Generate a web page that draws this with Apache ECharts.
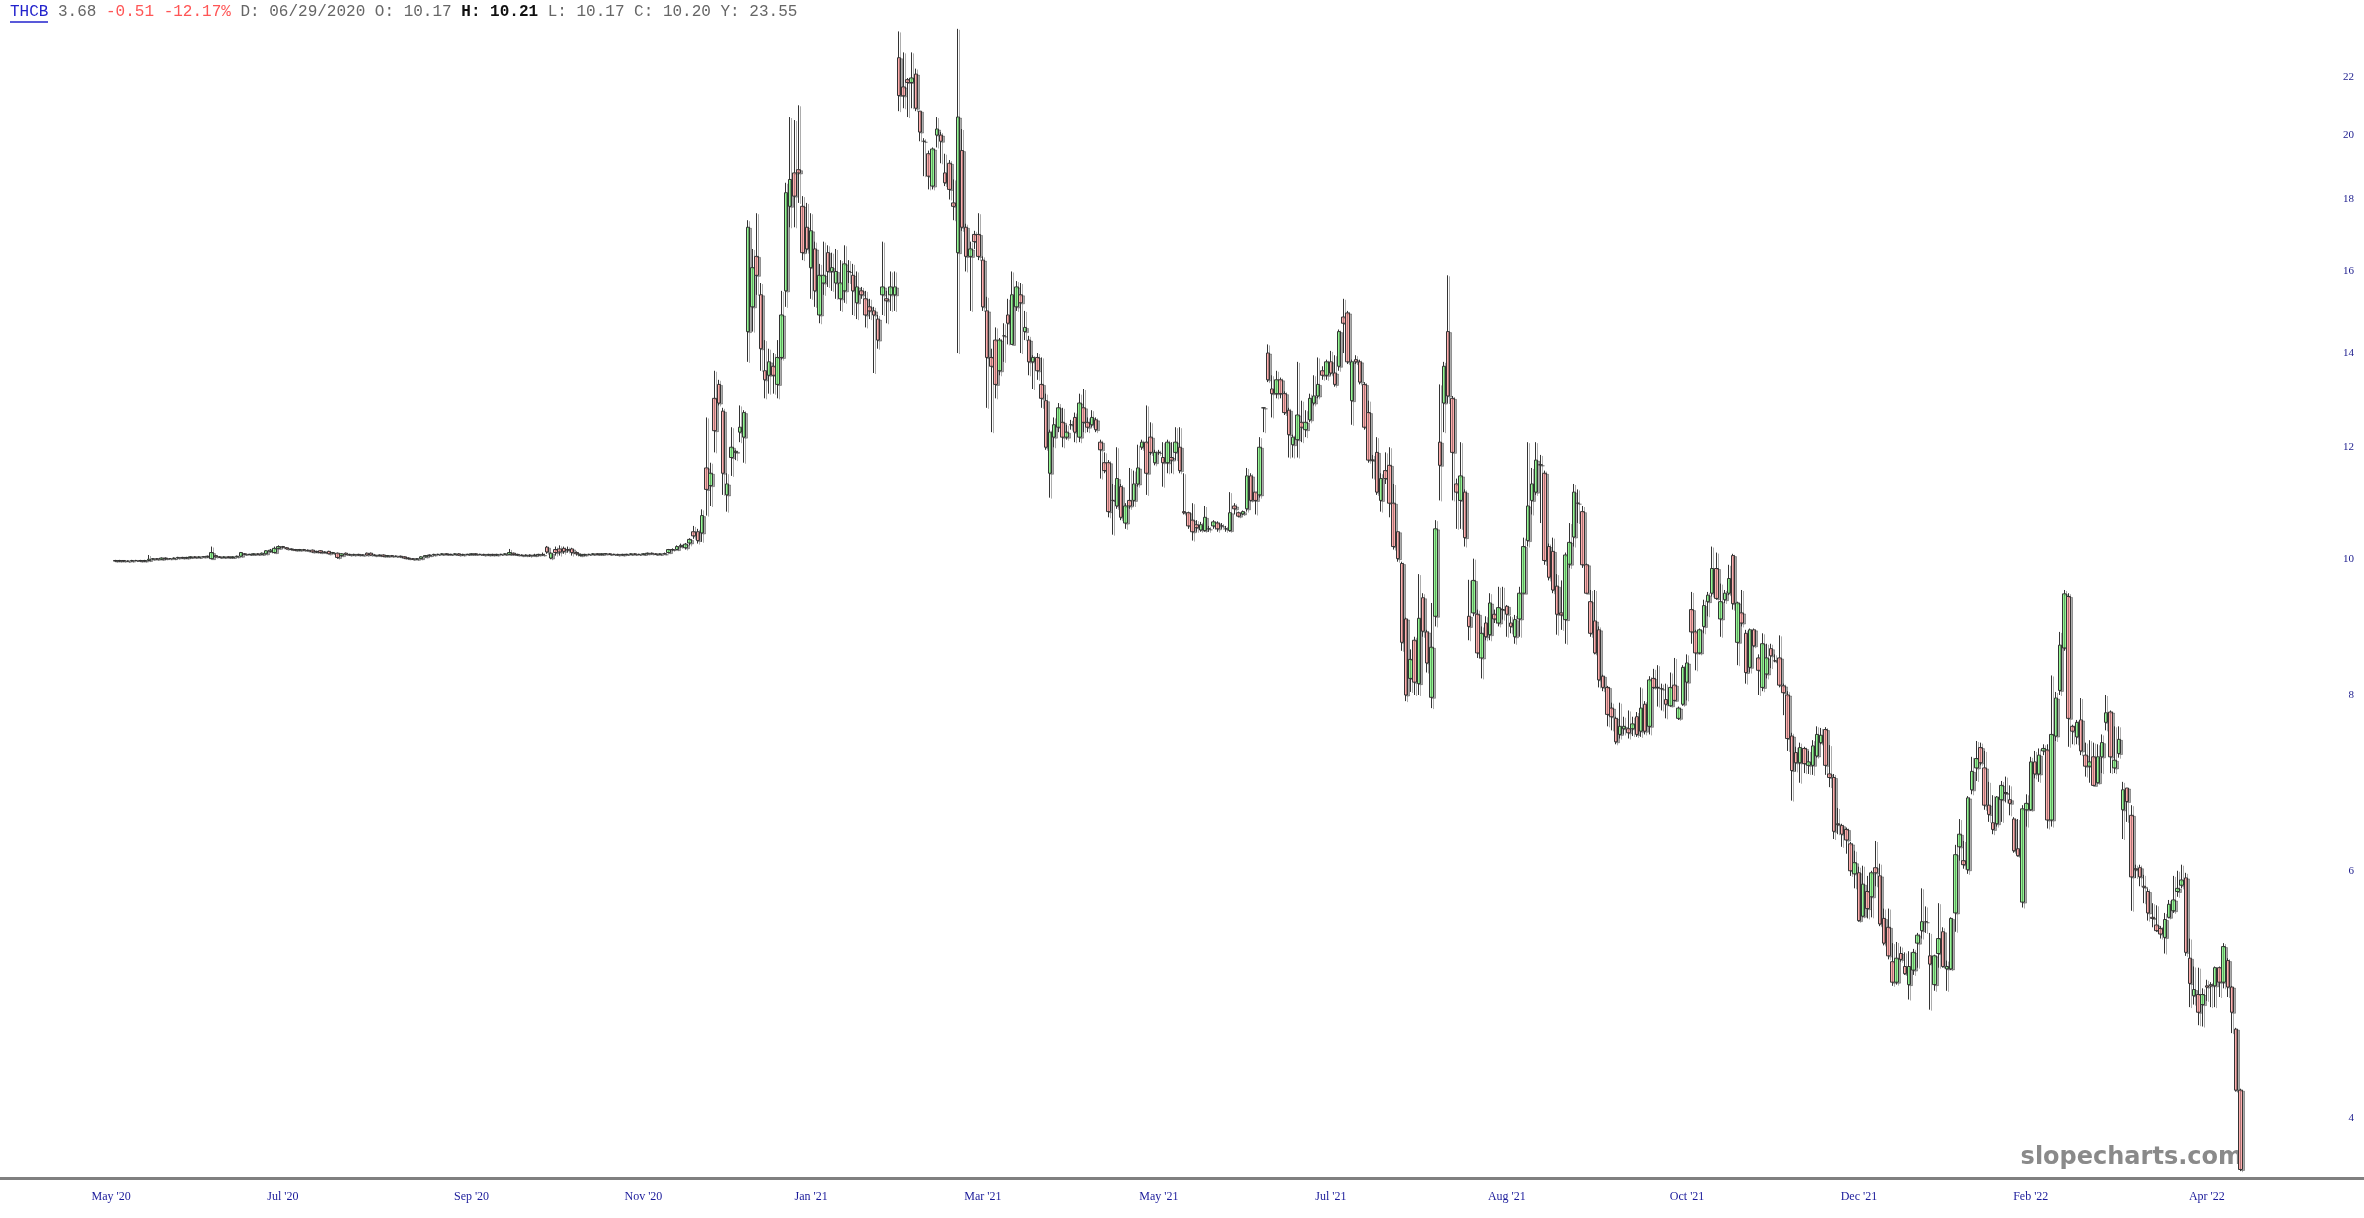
<!DOCTYPE html>
<html><head><meta charset="utf-8">
<script src="https://cdn.jsdelivr.net/npm/echarts@6/dist/echarts.min.js"></script>
<style>html,body{margin:0;padding:0;background:#fff}#c{width:2364px;height:1218px}</style>
</head><body><div id="c"></div>
<script>
// Candles: [open, close, low, high]
const ohlc = [
[9.97,9.96,9.95,9.98],[9.96,9.97,9.95,9.98],[9.97,9.96,9.95,9.97],[9.96,9.96,9.95,9.97],[9.96,9.97,9.95,9.98],
[9.97,9.97,9.96,9.98],[9.97,9.96,9.95,9.98],[9.96,9.97,9.95,9.98],[9.97,9.99,9.96,10.06],[9.99,10.0,9.98,10.01],
[10.0,9.99,9.98,10.01],[9.99,10.01,9.98,10.02],[10.01,10.0,9.99,10.02],[10.0,10.0,9.99,10.01],[10.0,10.01,9.99,10.02],
[10.01,10.02,10.0,10.03],[10.02,10.01,10.0,10.03],[10.01,10.02,10.0,10.03],[10.02,10.03,10.01,10.04],[10.03,10.02,10.01,10.04],
[10.02,10.03,10.01,10.04],[10.03,10.03,10.02,10.04],[10.03,10.04,10.02,10.05],[10.0,10.1,10.0,10.2],[10.05,10.03,10.02,10.06],
[10.03,10.02,10.01,10.04],[10.02,10.03,10.01,10.04],[10.03,10.02,10.01,10.04],[10.02,10.03,10.01,10.04],[10.03,10.04,10.02,10.05],
[10.04,10.1,10.03,10.11],[10.08,10.07,10.06,10.09],[10.07,10.07,10.06,10.08],[10.07,10.08,10.06,10.09],[10.08,10.07,10.06,10.09],
[10.07,10.09,10.06,10.1],[10.08,10.13,10.07,10.14],[10.12,10.14,10.1,10.16],[10.1,10.17,10.09,10.2],[10.17,10.2,10.16,10.22],
[10.2,10.19,10.17,10.21],[10.18,10.16,10.15,10.19],[10.16,10.15,10.14,10.17],[10.15,10.14,10.13,10.16],[10.14,10.15,10.13,10.16],
[10.15,10.14,10.13,10.16],[10.14,10.13,10.12,10.15],[10.14,10.11,10.1,10.15],[10.12,10.11,10.1,10.13],[10.13,10.1,10.09,10.14],
[10.11,10.1,10.09,10.12],[10.12,10.08,10.07,10.13],[10.09,10.1,10.08,10.11],[10.09,10.02,10.0,10.1],[10.05,10.08,10.04,10.09],
[10.09,10.07,10.06,10.1],[10.07,10.06,10.05,10.08],[10.06,10.07,10.05,10.08],[10.07,10.06,10.05,10.08],[10.06,10.06,10.05,10.07],
[10.09,10.06,10.05,10.1],[10.09,10.06,10.05,10.1],[10.06,10.05,10.04,10.07],[10.05,10.06,10.04,10.07],[10.06,10.04,10.03,10.07],
[10.04,10.05,10.03,10.06],[10.05,10.04,10.03,10.06],[10.04,10.04,10.03,10.05],[10.04,10.03,10.02,10.05],[10.03,10.01,10.0,10.04],
[10.01,10.0,9.99,10.02],[10.0,9.99,9.98,10.01],[9.99,10.0,9.98,10.01],[10.0,10.03,9.99,10.04],[10.03,10.05,10.02,10.06],
[10.05,10.06,10.04,10.07],[10.06,10.07,10.05,10.08],[10.07,10.07,10.06,10.08],[10.07,10.08,10.06,10.09],[10.08,10.07,10.06,10.09],
[10.07,10.07,10.06,10.08],[10.07,10.08,10.06,10.09],[10.08,10.06,10.05,10.09],[10.06,10.07,10.05,10.08],[10.07,10.07,10.06,10.08],
[10.07,10.08,10.06,10.09],[10.08,10.07,10.06,10.09],[10.07,10.07,10.06,10.08],[10.07,10.06,10.05,10.08],[10.06,10.07,10.05,10.08],
[10.07,10.06,10.05,10.08],[10.06,10.07,10.05,10.08],[10.07,10.07,10.06,10.08],[10.07,10.08,10.06,10.09],[10.07,10.1,10.06,10.16],
[10.09,10.07,10.06,10.1],[10.07,10.06,10.05,10.08],[10.06,10.05,10.04,10.07],[10.05,10.06,10.04,10.07],[10.06,10.05,10.03,10.07],
[10.05,10.06,10.04,10.08],[10.06,10.07,10.05,10.08],[10.07,10.06,10.05,10.1],[10.19,10.11,10.08,10.21],[10.01,10.09,9.99,10.1],
[10.15,10.1,10.05,10.2],[10.16,10.11,10.05,10.22],[10.17,10.12,10.08,10.2],[10.15,10.14,10.1,10.2],[10.16,10.1,10.05,10.18],
[10.1,10.08,10.05,10.12],[10.05,10.07,10.04,10.08],[10.06,10.07,10.05,10.08],[10.07,10.07,10.06,10.08],[10.07,10.08,10.06,10.09],
[10.08,10.07,10.06,10.09],[10.07,10.08,10.06,10.09],[10.08,10.08,10.07,10.09],[10.08,10.07,10.06,10.09],[10.07,10.07,10.06,10.08],
[10.07,10.06,10.05,10.08],[10.06,10.07,10.05,10.08],[10.07,10.07,10.06,10.08],[10.07,10.08,10.06,10.09],[10.08,10.07,10.06,10.09],
[10.07,10.07,10.06,10.08],[10.07,10.08,10.06,10.09],[10.08,10.09,10.07,10.1],[10.09,10.08,10.07,10.1],[10.08,10.07,10.06,10.09],
[10.07,10.08,10.06,10.09],[10.08,10.08,10.07,10.1],[10.1,10.15,10.09,10.16],[10.15,10.15,10.13,10.17],[10.15,10.2,10.14,10.22],
[10.2,10.22,10.18,10.25],
[10.18,10.24,10.15,10.26],[10.26,10.32,10.22,10.34],[10.45,10.38,10.33,10.55],[10.45,10.3,10.25,10.5],[10.43,10.73,10.28,10.84],
[11.6,11.2,10.73,12.6],[11.27,11.5,10.9,11.7],[13.0,12.33,11.9,13.6],[13.3,12.9,12.85,13.4],[12.73,11.5,11.1,12.8],
[11.1,11.3,10.8,11.5],[11.8,12.0,11.45,12.4],[11.9,11.92,11.75,11.95],[12.3,12.4,12.1,12.85],[12.2,12.7,11.7,12.75],
[14.5,17.2,13.8,17.4],[15.1,16.1,14.5,16.6],[16.4,15.9,15.4,17.6],[15.4,14.1,13.6,15.7],[13.6,13.4,13.0,14.3],
[13.5,13.8,13.1,14.1],[13.7,13.5,13.1,14.0],[13.3,13.9,13.0,14.3],[13.9,14.9,13.85,15.5],[15.5,18.2,15.1,18.5],
[17.8,18.6,17.2,20.6],[18.8,18.1,17.2,20.5],[18.9,18.8,17.9,21.0],[17.8,16.5,16.3,18.1],[17.2,16.6,16.5,17.9],
[16.1,17.1,15.3,17.6],[16.6,15.5,15.1,16.8],[14.9,15.9,14.7,16.2],[15.7,15.9,15.4,16.8],[16.5,16.0,15.6,16.7],
[16.0,16.1,15.5,16.5],[15.7,16.0,15.3,16.6],[15.3,15.7,15.0,16.3],[15.5,16.2,15.2,16.7],[16.0,16.0,15.7,16.3],
[15.9,15.5,14.9,16.2],[15.2,15.6,14.8,16.0],[15.5,15.4,15.3,15.6],[15.3,14.9,14.6,15.5],[15.1,15.0,14.8,15.3],
[15.0,14.9,13.55,15.1],[14.8,14.3,14.1,14.9],[15.4,15.6,14.9,16.8],[15.3,15.25,14.7,15.5],[15.4,15.6,15.0,16.0],
[15.4,15.6,15.0,16.0],
[22.7,21.34,20.8,23.7],[21.64,21.33,20.9,22.9],[21.9,21.8,20.6,21.96],[21.8,21.96,20.9,22.9],[22.1,20.9,20.8,22.3],
[20.8,20.1,19.8,20.8],[19.8,19.8,18.7,19.9],[19.4,18.7,18.3,19.5],[18.4,19.55,18.3,19.6],[20.0,20.2,19.6,20.6],
[20.0,19.8,19.1,20.1],[18.8,18.5,18.4,19.4],[19.1,18.3,18.0,19.2],[17.9,17.8,17.4,18.6],[16.5,20.6,14.0,23.8],
[19.5,17.2,17.1,20.2],[17.2,16.4,16.0,17.3],[16.4,16.6,15.0,16.8],[17.0,16.8,16.6,17.1],[17.0,16.4,16.3,17.6],
[16.3,15.1,15.0,16.4],[15.0,13.9,12.8,15.35],[13.9,13.7,12.3,14.1],[14.3,13.3,13.0,14.6],[13.6,14.3,13.5,14.35],
[14.4,14.4,13.8,14.7],[14.9,14.7,14.2,15.3],[14.2,15.4,14.2,16.0],[15.1,15.6,15.0,15.75],[15.4,15.2,14.0,15.7],
[14.5,14.6,14.3,15.0],[14.3,13.8,13.5,14.4],[13.8,13.9,13.2,13.95],[13.9,13.6,13.4,14.0],[13.3,13.0,12.8,13.9],
[12.95,12.0,11.95,13.1],[11.5,12.3,11.05,12.35],[12.2,12.45,12.0,12.6],[12.4,12.8,12.3,12.9],[12.5,12.2,12.0,12.8],
[12.2,12.3,12.15,12.45],[12.45,12.45,12.35,12.55],[12.6,12.3,12.1,12.7],[12.2,12.9,12.1,13.1],[12.8,12.5,12.3,13.2],
[12.5,12.4,12.3,12.6],[12.45,12.6,12.4,12.75],[12.55,12.35,12.3,12.6],[12.1,11.95,11.4,12.15],[11.7,11.55,11.5,11.9],
[11.7,10.8,10.7,11.75],[11.0,11.0,10.4,11.3],[10.9,11.4,10.85,12.0],[11.25,10.7,10.65,11.3],[10.6,10.9,10.5,10.95],
[11.0,10.9,10.85,11.6],[11.0,11.3,10.9,11.55],[11.3,11.6,11.25,12.05],[12.0,12.1,11.95,12.15],[12.1,11.5,11.1,12.85],
[12.2,11.9,11.85,12.5],[11.7,11.9,11.65,11.95],[11.9,11.9,11.85,11.95],[11.8,11.7,11.25,12.1],[11.7,12.1,11.5,12.15],
[11.8,11.75,11.5,12.1],[11.9,12.1,11.75,12.4],[12.0,11.55,11.5,12.4],[10.8,10.78,10.75,11.5],[10.78,10.55,10.5,10.8],
[10.65,10.45,10.3,10.95],[10.57,10.52,10.45,10.65],[10.48,10.57,10.45,10.62],[10.47,10.7,10.45,10.9],[10.5,10.5,10.45,10.55],
[10.55,10.62,10.5,10.65],[10.6,10.5,10.45,10.63],[10.55,10.55,10.5,10.6],[10.5,10.5,10.45,10.55],[10.47,10.78,10.45,11.15],
[10.9,10.85,10.75,10.95],[10.78,10.72,10.7,10.8],[10.76,10.8,10.74,10.82],[10.85,11.45,10.8,11.6],[11.45,11.0,10.98,11.5],
[11.15,11.0,10.75,11.15],[11.1,12.0,11.05,12.2],[12.8,12.8,12.3,12.8],[14.0,13.4,13.35,14.2],[13.2,13.1,12.6,13.5],
[13.1,13.4,13.0,13.6],[13.4,13.1,13.0,13.45],[13.1,12.7,12.65,13.15],[12.75,12.25,11.8,12.8],[12.05,12.2,11.8,12.25],
[12.15,12.65,11.8,13.8],[12.5,12.4,12.1,12.95],[12.35,12.5,12.2,12.75],[12.55,13.0,12.5,13.1],[12.9,13.05,12.85,13.5],
[13.05,13.3,13.0,13.9],[13.6,13.5,13.4,13.7],[13.5,13.8,13.4,13.85],[13.8,13.55,13.5,14.05],[13.55,13.3,13.25,13.95],
[13.7,14.5,13.6,14.55],[14.85,14.7,14.0,15.3],[14.95,13.8,13.75,15.0],[12.95,13.8,12.45,13.85],[13.85,13.8,13.75,13.95],
[13.8,13.35,13.3,13.85],[13.3,12.4,12.35,13.35],[12.7,11.75,11.7,12.95],[11.75,11.75,11.4,11.85],[11.9,11.15,11.1,12.2],
[11.0,11.4,10.8,11.5],[11.55,11.4,11.3,11.9],[11.65,10.95,10.7,12.0],[10.95,10.2,10.15,11.3],[10.45,10.0,9.95,10.45],
[9.92,8.72,8.6,9.95],[9.06,8.0,7.92,9.08],[8.22,8.48,8.04,8.62],[8.75,8.17,8.0,8.8],[8.15,9.07,8.0,9.75],
[9.38,8.88,8.8,9.45],[8.87,8.43,8.3,8.9],[7.97,8.65,7.83,9.3],[9.1,10.5,8.95,10.65],[12.1,11.65,11.0,13.3],
[12.9,13.7,12.3,13.8],[14.5,13.05,12.9,15.9],[13.0,11.9,11.0,13.05],[11.3,11.15,10.5,11.4],[11.0,11.45,10.5,12.1],
[11.15,10.35,10.2,11.2],[9.1,8.95,8.75,9.66],[9.15,9.65,9.1,10.0],[9.13,8.57,8.5,9.2],[8.5,8.85,8.22,8.95],
[9.0,8.8,8.75,9.1],[8.83,9.3,8.75,9.45],[9.13,9.06,9.0,9.2],[9.0,9.23,8.95,9.55],[9.2,9.2,9.05,9.55],
[9.25,9.13,8.8,9.27],[9.0,8.95,8.85,9.1],[8.8,9.05,8.7,9.12],[9.06,9.45,8.8,9.55],[9.45,10.2,9.45,10.35],
[10.3,10.9,10.2,12.1],[11.0,11.3,10.75,11.6],[11.15,11.75,11.1,12.1],[11.66,11.66,10.6,11.85],[11.5,9.97,9.9,11.55],
[10.2,9.7,9.65,10.25],[10.12,9.5,9.45,10.35],[9.56,9.13,8.83,9.75],[9.15,9.12,8.9,9.65],[9.05,10.06,8.7,10.1],
[9.91,10.27,9.85,10.6],[10.36,11.15,10.2,11.3],[10.95,10.95,10.6,11.2],[10.8,9.9,9.85,10.9],[9.9,9.45,9.45,9.92],
[9.32,8.85,8.8,9.5],[9.03,8.57,8.55,9.5],[8.9,8.2,8.1,8.95],[8.25,8.1,8.05,8.27],[8.1,7.75,7.6,8.12],
[7.83,7.72,7.55,7.9],[7.7,7.41,7.38,7.72],[7.5,7.6,7.45,7.9],[7.57,7.6,7.5,7.72],[7.57,7.52,7.45,7.8],
[7.57,7.63,7.48,7.72],[7.72,7.5,7.47,7.78],[7.54,7.83,7.47,8.1],[7.88,7.54,7.5,7.92],[7.6,8.2,7.5,8.25],
[8.22,8.1,8.08,8.35],[8.1,8.1,7.85,8.4],[8.08,8.08,7.8,8.15],[7.94,7.88,7.7,8.15],[7.86,8.1,7.85,8.3],
[8.13,7.93,7.92,8.5],[7.7,7.83,7.68,7.85],[7.88,8.37,7.86,8.4],[8.17,8.43,7.93,8.55],[9.2,8.87,8.7,9.47],
[8.87,8.57,8.33,8.9],[8.57,8.9,8.55,8.92],[8.95,9.26,8.85,9.35],[9.32,9.42,9.1,9.47],[9.45,9.84,9.4,10.2],
[9.84,9.37,9.35,10.1],[9.06,9.32,8.8,9.6],[9.35,9.45,9.3,9.5],[9.45,9.68,9.42,9.9],[10.05,9.29,9.2,10.08],
[8.72,9.3,8.4,9.32],[9.15,9.0,8.95,9.5],[8.85,8.3,8.15,8.9],[8.37,8.9,8.3,8.92],[8.9,8.67,8.65,8.92],
[8.5,8.33,8.0,8.55],[8.1,8.7,8.05,8.85],[8.28,8.5,8.22,8.7],[8.63,8.53,8.36,8.7],[8.46,8.46,8.44,8.55],
[8.5,8.13,8.1,8.82],[8.12,8.03,7.74,8.15],[8.0,7.45,7.3,8.05],[7.48,7.07,6.73,7.52],[7.28,7.16,7.06,7.35],
[7.16,7.34,6.93,7.4],[7.33,7.15,7.04,7.35],[7.13,7.17,7.03,7.3],[7.13,7.36,7.02,7.43],[7.24,7.5,7.22,7.6],
[7.4,7.49,7.38,7.58],[7.56,7.13,7.02,7.59],[7.03,6.99,6.88,7.37],[6.99,6.4,6.32,7.03],[6.48,6.47,6.37,6.65],
[6.46,6.37,6.24,6.48],[6.42,6.31,6.17,6.44],[6.27,6.0,5.95,6.29],[5.97,6.08,5.83,6.2],[5.98,5.53,5.52,6.04],
[5.57,5.87,5.56,6.05],[5.8,5.64,5.55,5.95],[5.75,5.98,5.56,6.0],[6.03,5.98,5.85,6.3],[5.95,5.5,5.48,6.07],
[5.55,5.33,5.31,5.64],[5.47,5.22,5.19,5.64],[5.17,5.0,4.97,5.33],[5.0,5.2,4.98,5.34],[5.24,5.19,5.17,5.3],
[5.13,5.07,5.06,5.25],[4.98,5.13,4.86,5.26],[5.1,5.25,5.06,5.28],[5.33,5.4,5.12,5.42],[5.44,5.52,5.37,5.83],
[5.52,5.52,5.42,5.66],[5.22,5.15,4.78,5.42],[4.98,5.22,4.93,5.23],[5.24,5.37,5.12,5.69],[5.43,5.13,5.12,5.47],
[5.11,5.13,4.93,5.18],[5.11,5.55,5.1,5.56],[5.6,6.16,5.43,6.26],[6.24,6.37,6.1,6.53],[6.1,6.06,6.02,6.3],
[6.01,6.76,5.97,6.78],[6.85,7.06,6.8,7.23],[7.1,7.21,6.95,7.42],[7.34,7.16,7.13,7.4],[7.1,6.68,6.63,7.3],
[6.68,6.58,6.5,6.94],[6.49,6.42,6.37,6.79],[6.48,6.77,6.45,6.78],[6.74,6.9,6.5,6.95],[6.82,6.81,6.71,7.0],
[6.74,6.7,6.57,6.9],[6.53,6.2,6.18,6.55],[6.22,6.15,6.14,6.53],[5.7,6.64,5.65,6.68],[6.63,6.7,6.45,6.8],
[6.63,7.17,6.62,7.23],[7.17,7.03,6.98,7.3],[7.03,7.25,6.94,7.33],[7.3,7.33,7.25,7.38],[7.31,6.52,6.43,7.38],
[6.52,7.5,6.45,8.26],[7.48,7.96,7.42,8.04],[8.06,8.68,8.0,8.87],[8.64,9.44,8.6,9.5],[9.4,7.7,7.35,9.45],
[7.6,7.54,7.38,7.62],[7.47,7.65,7.38,7.68],[7.68,7.3,7.25,7.96],[7.25,7.12,7.0,7.4],[7.12,7.17,6.93,7.43],
[7.23,6.9,6.9,7.4],[6.93,7.23,6.92,7.38],[7.23,7.4,7.04,7.5],[7.65,7.77,7.55,8.0],[7.78,7.23,7.04,7.8],
[7.1,7.19,7.04,7.6],[7.27,7.44,7.22,7.6],[6.63,6.85,6.32,6.94],[6.87,6.72,6.5,6.87],[6.57,5.94,5.62,6.68],
[6.02,6.01,5.93,6.06],[6.03,5.94,5.85,6.06],[5.85,5.84,5.69,5.96],[5.8,5.6,5.53,5.83],[5.56,5.55,5.47,5.69],
[5.49,5.44,5.43,5.67],[5.46,5.41,5.37,5.48],[5.38,5.54,5.24,5.6],[5.56,5.68,5.55,5.72],[5.62,5.72,5.6,5.95],
[5.8,5.83,5.75,6.0],[5.86,5.91,5.83,6.06],[5.93,5.25,5.22,5.98],[5.2,4.99,4.8,5.37],[4.89,4.94,4.82,5.13],
[4.9,4.76,4.66,5.12],[4.82,4.9,4.65,4.95],[4.97,4.96,4.85,5.02],[4.98,4.97,4.8,5.0],[4.97,5.12,4.8,5.13],
[5.12,5.0,4.88,5.13],[5.0,5.3,4.95,5.33],[5.18,4.96,4.88,5.2],[4.96,4.76,4.6,4.97],[4.63,4.19,4.18,4.64],
[4.19,3.68,3.67,4.2]
];
const tickLabels = ["May '20","Jul '20","Sep '20","Nov '20","Jan '21","Mar '21","May '21","Jul '21","Aug '21","Oct '21","Dec '21","Feb '22","Apr '22"];
const tickBars = [-1,40,85,126,166,207,249,290,332,375,416,457,499];
const priceTicks = [4,6,8,10,12,14,16,18,20,22];

const padLeft = 27, padRight = 29;
const categories = [];
const seriesData = [];
for (let i = 0; i < padLeft; i++) { categories.push('pl' + i); seriesData.push(['-','-','-','-']); }
ohlc.forEach((r, i) => { categories.push('b' + i); seriesData.push(r); });
for (let i = 0; i < padRight; i++) { categories.push('pr' + i); seriesData.push(['-','-','-','-']); }
const labelMap = {};
tickBars.forEach((b, k) => { labelMap[b + padLeft] = tickLabels[k]; });

const chart = echarts.init(document.getElementById('c'), null, {renderer: 'canvas'});
chart.setOption({
  animation: false,
  backgroundColor: '#ffffff',
  grid: {left: 0, right: 0, top: 0, bottom: 40},
  xAxis: {
    type: 'category', data: categories, boundaryGap: true,
    axisLine: {show: true, lineStyle: {color: '#808080', width: 3}},
    axisTick: {show: false},
    splitLine: {show: false},
    axisLabel: {
      interval: (idx) => labelMap[idx] !== undefined,
      formatter: (v, idx) => labelMap[idx] || '',
      color: '#1a1a9a', fontFamily: 'Liberation Serif', fontSize: 12, margin: 13
    }
  },
  yAxis: {
    type: 'log', logBase: 10, min: 3.629, max: 24.95, position: 'right',
    axisLine: {show: false}, axisTick: {show: false}, splitLine: {show: false},
    axisLabel: {inside: true, margin: 10, customValues: priceTicks, color: '#1a1a8c',
      fontFamily: 'Liberation Serif', fontSize: 11, formatter: (v) => String(Math.round(v))}
  },
  series: [{
    type: 'candlestick', data: seriesData, large: false, barWidth: 4,
    itemStyle: {color: '#94f794', color0: '#ffaeae', borderColor: '#333', borderColor0: '#333', borderWidth: 1,
      shadowColor: 'rgba(0,0,0,0.32)', shadowOffsetX: 2, shadowOffsetY: 1, shadowBlur: 0}
  }],
  graphic: [
    {type: 'text', left: 10, top: 4, style: {
      text: '{a|THCB} {b|3.68} {c|-0.51 -12.17%} {b|D: 06/29/2020 O: 10.17} {d|H: 10.21} {b|L: 10.17 C: 10.20 Y: 23.55}',
      font: '16px "Liberation Mono"', fill: '#666',
      rich: {
        a: {fill: '#2222cc', font: '16px "Liberation Mono"'},
        b: {fill: '#666666', font: '16px "Liberation Mono"'},
        c: {fill: '#ff5555', font: '16px "Liberation Mono"'},
        d: {fill: '#111111', font: 'bold 16px "Liberation Mono"'}
      }}},
    {type: 'line', shape: {x1: 10, y1: 22, x2: 48, y2: 22}, style: {stroke: '#2222cc', lineWidth: 1.5}},
    {type: 'text', right: 121, top: 1146, style: {text: 'slopecharts.com', font: 'bold 24px "DejaVu Sans"', fill: '#8a8a8a'}}
  ]
});
</script></body></html>
